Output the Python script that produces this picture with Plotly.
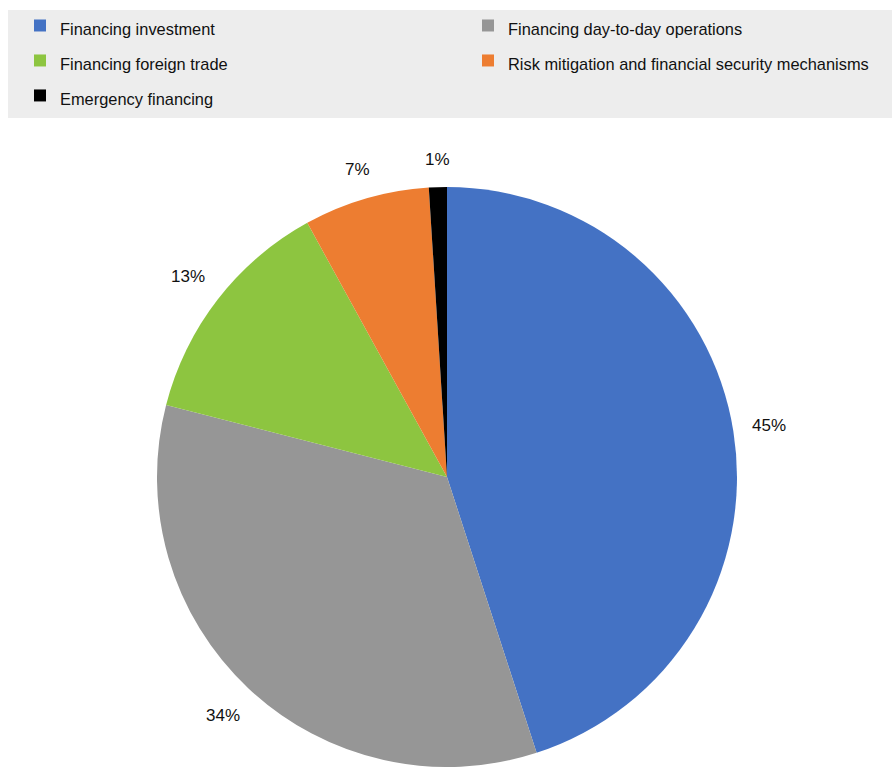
import math
import plotly.graph_objects as go

# Shares of financing purposes (percent)
labels = [
    "Financing investment",
    "Financing day-to-day operations",
    "Financing foreign trade",
    "Risk mitigation and financial security mechanisms",
    "Emergency financing",
]
values = [45, 34, 13, 7, 1]
colors = ["#4472C4", "#969696", "#8DC540", "#ED7D31", "#000000"]

W, H = 892, 767
FONT = "Liberation Sans, Arial, sans-serif"

# pie placement in pixels (domain is derived from these)
cx, r = 447, 290
cy_from_bottom = r

fig = go.Figure(
    go.Pie(
        labels=labels,
        values=values,
        sort=False,
        direction="clockwise",
        rotation=0,
        marker=dict(colors=colors, line=dict(width=0)),
        textinfo="none",
        hoverinfo="label+percent",
        domain=dict(x=[(cx - r) / W, (cx + r) / W], y=[0, 2 * cy_from_bottom / H]),
    )
)

# value labels outside the slices, centred on each slice's mid-angle
total = sum(values)
cum = 0.0
for v in values:
    mid = (cum + v / 2) / total * 2 * math.pi
    cum += v
    text = f"{v}%"
    tw = 9.4 * sum(c.isdigit() for c in text) + 15.0
    th = 19
    half = abs(math.sin(mid)) * tw / 2 + abs(math.cos(mid)) * th / 2
    d = r + 18 + half
    px = cx + d * math.sin(mid)
    py_up = cy_from_bottom + d * math.cos(mid)
    fig.add_annotation(
        x=px / W, y=py_up / H, xref="paper", yref="paper",
        text=text, showarrow=False,
        xanchor="center", yanchor="middle",
        font=dict(family=FONT, size=17, color="#111111"),
    )

# grey panel behind the legend
fig.add_shape(
    type="rect", xref="paper", yref="paper",
    x0=8 / W, x1=1, y0=1 - 118 / H, y1=1 - 10 / H,
    fillcolor="#EDEDED", line=dict(width=0), layer="below",
)

legend_labels = {lab: f'<span style="font-size:16.4px">{lab}</span>' for lab in labels}

fig.update_layout(
    width=W,
    height=H,
    margin=dict(l=0, r=0, t=0, b=0, autoexpand=False),
    paper_bgcolor="white",
    showlegend=True,
    legend=dict(
        orientation="h",
        x=20 / W, y=1 - 3 / H,
        xanchor="left", yanchor="top",
        bgcolor="rgba(0,0,0,0)",
        entrywidth=403,
        entrywidthmode="pixels",
        traceorder="normal",
        font=dict(family=FONT, size=24.6, color="#111111"),
    ),
)
fig.data[0].labels = [legend_labels[lab] for lab in labels]

fig.write_html("out.html")
